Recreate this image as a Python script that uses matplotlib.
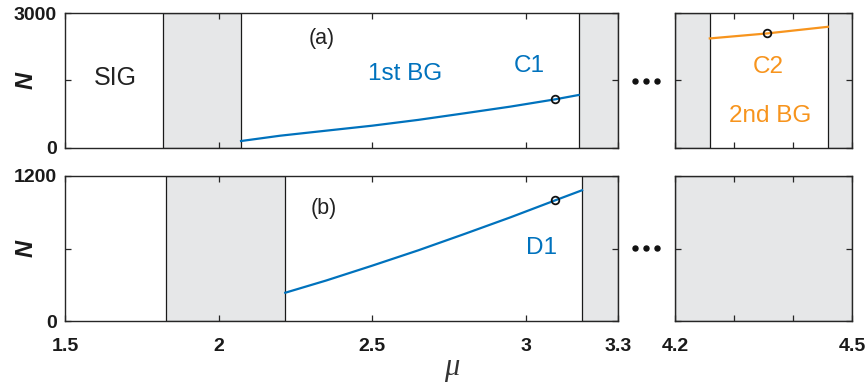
import matplotlib
matplotlib.use("Agg")
import matplotlib.pyplot as plt
from matplotlib.lines import Line2D

plt.rcParams["font.family"] = ["Liberation Sans", "DejaVu Sans"]

# ---------------- DATA ----------------
# panel (a): 1st band gap branch (C1) and 2nd band gap branch (C2)
a1_mu = [2.073, 2.2, 2.35, 2.5, 2.65, 2.8, 2.95, 3.096, 3.172]
a1_N = [155, 273, 385, 496, 625, 771, 920, 1082, 1178]
a2_mu = [4.259, 4.356, 4.459]
a2_N = [2435, 2546, 2693]
c1 = (3.096, 1082)
c2 = (4.356, 2546)

# panel (b): 1st band gap branch (D1)
b1_mu = [2.217, 2.35, 2.5, 2.65, 2.8, 2.95, 3.096, 3.183]
b1_N = [234, 335, 458, 585, 720, 858, 999, 1082]
d1 = (3.096, 999)

# shaded (band) regions
bands_a_left = [(1.82, 2.073), (3.172, 3.3)]
bands_a_right = [(4.2, 4.259), (4.459, 4.5)]
bands_b_left = [(1.829, 2.217), (3.183, 3.3)]
bands_b_right = [(4.2, 4.5)]

xticks_left = [1.5, 2, 2.5, 3, 3.3]
xlabels_left = ["1.5", "2", "2.5", "3", "3.3"]
xticks_right = [4.2, 4.3, 4.4, 4.5]
xlabels_right = ["4.2", "", "", "4.5"]
yticks_a = [0, 1500, 3000]
ylabels_a = ["0", "", "3000"]
yticks_b = [0, 600, 1200]
ylabels_b = ["0", "", "1200"]

BLUE = "#0072BD"
ORANGE = "#F7941D"
GRAY = "#e6e7e8"
EDGE = "#262626"

# ---------------- FIGURE ----------------
fig = plt.figure(figsize=(8.67, 3.83), dpi=100)

W, H = 867.0, 383.0
def box(x0, x1, ytop, ybot):
    return [x0 / W, 1 - ybot / H, (x1 - x0) / W, (ybot - ytop) / H]

ax_a = fig.add_axes(box(65, 618, 13, 148))
ax_a2 = fig.add_axes(box(675, 852, 13, 148))
ax_b = fig.add_axes(box(65, 618, 176, 321))
ax_b2 = fig.add_axes(box(675, 852, 176, 321))


def style(ax, xlim, ylim, xt, xl, yt, yl, show_x):
    ax.set_xlim(*xlim)
    ax.set_ylim(*ylim)
    ax.set_xticks(xt)
    ax.set_yticks(yt)
    ax.set_xticklabels(xl if show_x else [""] * len(xt))
    ax.set_yticklabels(yl)
    ax.tick_params(direction="in", length=4, width=0.9, color=EDGE,
                   top=True, right=True, labelsize=14, pad=6)
    ax.tick_params(axis="x", pad=12)
    for lab in ax.get_xticklabels() + ax.get_yticklabels():
        lab.set_fontweight("bold")
        lab.set_color("#1a1a1a")
    for sp in ax.spines.values():
        sp.set_color(EDGE)
        sp.set_linewidth(1.0)


def shade(ax, bands):
    for lo, hi in bands:
        ax.axvspan(lo, hi, facecolor=GRAY, edgecolor="#1a1a1a", lw=0.9, zorder=1)


# panel (a)
shade(ax_a, bands_a_left)
ax_a.plot(a1_mu, a1_N, color=BLUE, lw=1.6, zorder=3)
ax_a.plot(*c1, "o", mfc="none", mec="#111111", ms=5.5, mew=1.3, zorder=4)
style(ax_a, (1.5, 3.3), (0, 3000), xticks_left, xlabels_left, yticks_a, ylabels_a, False)
ax_a.text(2.337, 2444, "(a)", fontsize=15.5, ha="center", va="center", color="#222222")
ax_a.text(1.663, 1560, "SIG", fontsize=18, ha="center", va="center", color="#222222")
ax_a.text(2.607, 1644, "1st BG", fontsize=17.5, ha="center", va="center", color=BLUE)
ax_a.text(3.01, 1828, "C1", fontsize=17.5, ha="center", va="center", color=BLUE)

shade(ax_a2, bands_a_right)
ax_a2.plot(a2_mu, a2_N, color=ORANGE, lw=1.6, zorder=3)
ax_a2.plot(*c2, "o", mfc="none", mec="#111111", ms=5.5, mew=1.3, zorder=4)
style(ax_a2, (4.2, 4.5), (0, 3000), xticks_right, xlabels_right, yticks_a, ["", "", ""], False)
ax_a2.text(4.358, 1800, "C2", fontsize=17.5, ha="center", va="center", color=ORANGE)
ax_a2.text(4.361, 722, "2nd BG", fontsize=17.5, ha="center", va="center", color=ORANGE)

# panel (b)
shade(ax_b, bands_b_left)
ax_b.plot(b1_mu, b1_N, color=BLUE, lw=1.6, zorder=3)
ax_b.plot(*d1, "o", mfc="none", mec="#111111", ms=5.5, mew=1.3, zorder=4)
style(ax_b, (1.5, 3.3), (0, 1200), xticks_left, xlabels_left, yticks_b, ylabels_b, True)
ax_b.text(2.343, 935, "(b)", fontsize=15.5, ha="center", va="center", color="#222222")
ax_b.text(3.052, 602, "D1", fontsize=17.5, ha="center", va="center", color=BLUE)

shade(ax_b2, bands_b_right)
style(ax_b2, (4.2, 4.5), (0, 1200), xticks_right, xlabels_right, yticks_b, ["", "", ""], True)

# axis labels
for yc in (80.5, 248.5):
    fig.text(26 / W, 1 - yc / H, "N", rotation=90, fontsize=17, fontweight="bold",
             fontstyle="italic", ha="center", va="center", color="#1a1a1a")
fig.text(452 / W, 1 - 367 / H, "μ", family=["Liberation Serif", "DejaVu Serif"],
         fontstyle="italic", fontsize=22, ha="center", va="center", color="#333333")

# "..." between broken axes
for yc in (80.7, 248.3):
    fig.add_artist(Line2D([635 / W, 646 / W, 657 / W], [1 - yc / H] * 3,
                          transform=fig.transFigure, ls="none", marker="o",
                          ms=3.6, color="#111111"))

fig.savefig("out.png", dpi=100)
